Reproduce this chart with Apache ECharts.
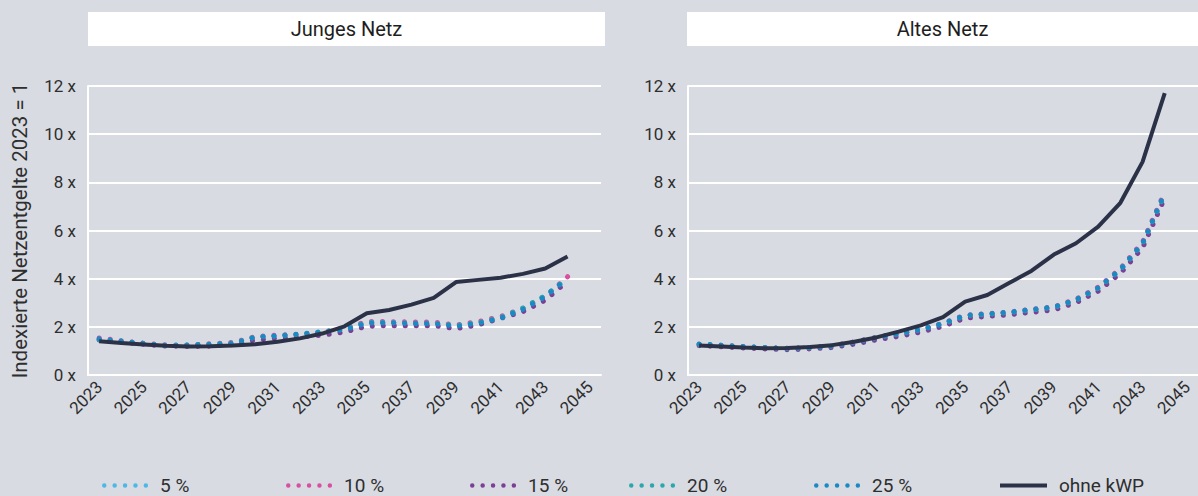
<!DOCTYPE html>
<html>
<head>
<meta charset="utf-8">
<script src="https://cdn.jsdelivr.net/npm/echarts@6/dist/echarts.min.js"></script>
<style>
  html, body { margin: 0; padding: 0; background: #d8dbe2; }
  #chart { width: 1198px; height: 496px; }
</style>
</head>
<body>
<div id="chart"></div>
<script>
// Categories (years) on the x axis; the last year carries no data
const years = ['2023','2024','2025','2026','2027','2028','2029','2030','2031','2032','2033','2034',
               '2035','2036','2037','2038','2039','2040','2041','2042','2043','2044','2045'];

// Panel titles and legend names
const panelTitles = ['Junges Netz', 'Altes Netz'];
const seriesNames = ['5 %', '10 %', '15 %', '20 %', '25 %', 'ohne kWP'];
const yAxisTitle = 'Indexierte Netzentgelte 2023 = 1';

// Junges Netz – indexed grid charges (2023 = 1), 2023..2044
const jung5    = [1.48,1.40,1.31,1.23,1.24,1.27,1.33,1.56,1.61,1.69,1.79,1.90,2.17,2.17,2.15,2.14,2.05,2.17,2.38,2.76,3.30,4.00];
const jung10   = [1.54,1.42,1.32,1.25,1.25,1.30,1.35,1.60,1.66,1.68,1.78,1.95,2.22,2.22,2.20,2.20,2.08,2.22,2.43,2.76,3.26,4.08];
const jung15   = [1.45,1.36,1.27,1.20,1.18,1.20,1.26,1.45,1.52,1.58,1.65,1.78,2.02,2.05,2.05,2.05,1.92,2.08,2.35,2.63,3.10,3.90];
const jung20   = [1.47,1.40,1.30,1.22,1.25,1.28,1.32,1.58,1.62,1.70,1.80,1.90,2.18,2.18,2.15,2.15,2.05,2.18,2.38,2.78,3.30,4.00];
const jung25   = [1.50,1.41,1.31,1.22,1.24,1.27,1.31,1.57,1.63,1.70,1.78,1.88,2.15,2.17,2.14,2.14,2.02,2.15,2.36,2.72,3.25,4.03];
const jungOhne = [1.40,1.33,1.27,1.21,1.18,1.19,1.22,1.28,1.38,1.52,1.72,2.02,2.56,2.70,2.92,3.20,3.86,3.95,4.04,4.20,4.42,4.92];

// Altes Netz – indexed grid charges (2023 = 1), 2023..2044
const alt5    = [1.27,1.22,1.17,1.13,1.10,1.13,1.20,1.36,1.55,1.70,1.88,2.12,2.46,2.52,2.59,2.70,2.80,3.11,3.60,4.36,5.43,7.50];
const alt10   = [1.28,1.23,1.18,1.14,1.11,1.14,1.21,1.38,1.57,1.72,1.90,2.15,2.49,2.55,2.62,2.73,2.83,3.15,3.65,4.42,5.52,7.60];
const alt15   = [1.22,1.17,1.12,1.08,1.05,1.08,1.14,1.28,1.46,1.60,1.78,2.02,2.36,2.43,2.50,2.60,2.70,3.00,3.48,4.22,5.28,7.35];
const alt20   = [1.27,1.22,1.17,1.13,1.10,1.13,1.20,1.36,1.55,1.70,1.88,2.12,2.46,2.52,2.59,2.70,2.80,3.10,3.60,4.36,5.45,7.52];
const alt25   = [1.29,1.24,1.18,1.14,1.11,1.14,1.21,1.37,1.56,1.71,1.89,2.14,2.48,2.54,2.61,2.72,2.82,3.13,3.62,4.38,5.47,7.55];
const altOhne = [1.22,1.18,1.14,1.11,1.12,1.16,1.24,1.38,1.56,1.80,2.06,2.40,3.05,3.32,3.83,4.33,5.00,5.47,6.16,7.15,8.85,11.70];

// Y axis ticks
const yMin = 0, yMax = 12, yStep = 2;

const colors = ['#4db8e8', '#d8509f', '#7b3f97', '#2ba7ae', '#1b8ac2', '#2b3147'];
const FONT = 'Roboto, "DejaVu Sans", sans-serif';
const TEXT = '#2e2e2e';

const panels = [
  { values: [jung5, jung10, jung15, jung20, jung25, jungOhne] },
  { values: [alt5, alt10, alt15, alt20, alt25, altOhne] }
];

const gridDefs = [
  { left: 88, top: 86, width: 513, height: 289 },
  { left: 688, top: 86, width: 513, height: 289 }
];

const series = [];
panels.forEach((p, gi) => {
  p.values.forEach((vals, si) => {
    const isSolid = si === 5;
    series.push({
      name: seriesNames[si],
      type: 'line',
      xAxisIndex: gi,
      yAxisIndex: gi,
      data: vals,
      symbol: 'none',
      silent: true,
      z: isSolid ? 10 : 2 + si,
      lineStyle: isSolid
        ? { color: colors[si], width: 4, cap: 'butt' }
        : { color: colors[si], width: 5, type: [0.1, 10.9], cap: 'round' },
      itemStyle: { color: colors[si] }
    });
  });
});

// Legend markers: a row of five dots for the scenarios, a bar for "ohne kWP"
const dotsIcon = 'path://M0,2.25a2.25,2.25 0 1,0 4.5,0a2.25,2.25 0 1,0 -4.5,0Z' +
  'M10.4,2.25a2.25,2.25 0 1,0 4.5,0a2.25,2.25 0 1,0 -4.5,0Z' +
  'M20.8,2.25a2.25,2.25 0 1,0 4.5,0a2.25,2.25 0 1,0 -4.5,0Z' +
  'M31.2,2.25a2.25,2.25 0 1,0 4.5,0a2.25,2.25 0 1,0 -4.5,0Z' +
  'M41.6,2.25a2.25,2.25 0 1,0 4.5,0a2.25,2.25 0 1,0 -4.5,0Z';

const legendLefts = [102, 286, 470, 629, 814, 1000];
const legends = seriesNames.map((n, i) => ({
  data: [n],
  left: legendLefts[i],
  top: 476,
  padding: 0,
  icon: i === 5 ? 'rect' : dotsIcon,
  itemWidth: i === 5 ? 47 : 46.1,
  itemHeight: i === 5 ? 4 : 4.5,
  selectedMode: false,
  textStyle: { fontSize: 19, color: TEXT, fontFamily: FONT, padding: [0, 0, 0, 7] }
}));

const graphics = [];
gridDefs.forEach((g, i) => {
  const boxLeft = i === 0 ? 88 : 687;
  const boxW = i === 0 ? 517 : 511;
  graphics.push({
    type: 'rect', left: boxLeft, top: 12, silent: true,
    shape: { width: boxW, height: 34 },
    style: { fill: '#ffffff' }
  });
  graphics.push({
    type: 'text', silent: true,
    x: boxLeft + boxW / 2, y: 29,
    style: {
      text: panelTitles[i], fill: '#1e1e1e', fontSize: 20, fontWeight: 'normal', fontFamily: FONT,
      align: 'center', verticalAlign: 'middle'
    }
  });
});

const option = {
  backgroundColor: '#d8dbe2',
  animation: false,
  textStyle: { fontFamily: FONT },
  legend: legends,
  graphic: graphics,
  grid: gridDefs,
  xAxis: gridDefs.map((g, i) => ({
    type: 'category',
    gridIndex: i,
    data: years,
    boundaryGap: true,
    axisLine: { show: true, lineStyle: { color: '#ffffff', width: 2 } },
    axisTick: { show: false },
    splitLine: { show: false },
    axisLabel: { interval: 1, rotate: 45, fontSize: 17, color: TEXT, margin: 9, fontFamily: FONT }
  })),
  yAxis: gridDefs.map((g, i) => ({
    type: 'value',
    gridIndex: i,
    min: yMin, max: yMax, interval: yStep,
    name: i === 0 ? yAxisTitle : '',
    nameLocation: 'middle',
    nameGap: 58,
    nameTextStyle: { fontSize: 20.5, color: TEXT, fontFamily: FONT },
    axisLine: { show: true, lineStyle: { color: '#ffffff', width: 2 } },
    axisTick: { show: false },
    splitLine: { show: true, lineStyle: { color: '#ffffff', width: 2 } },
    axisLabel: { formatter: '{value} x', fontSize: 17, color: TEXT, margin: 12, fontFamily: FONT }
  })),
  series: series
};

const chart = echarts.init(document.getElementById('chart'), null, { renderer: 'svg' });
chart.setOption(option);
</script>
</body>
</html>
